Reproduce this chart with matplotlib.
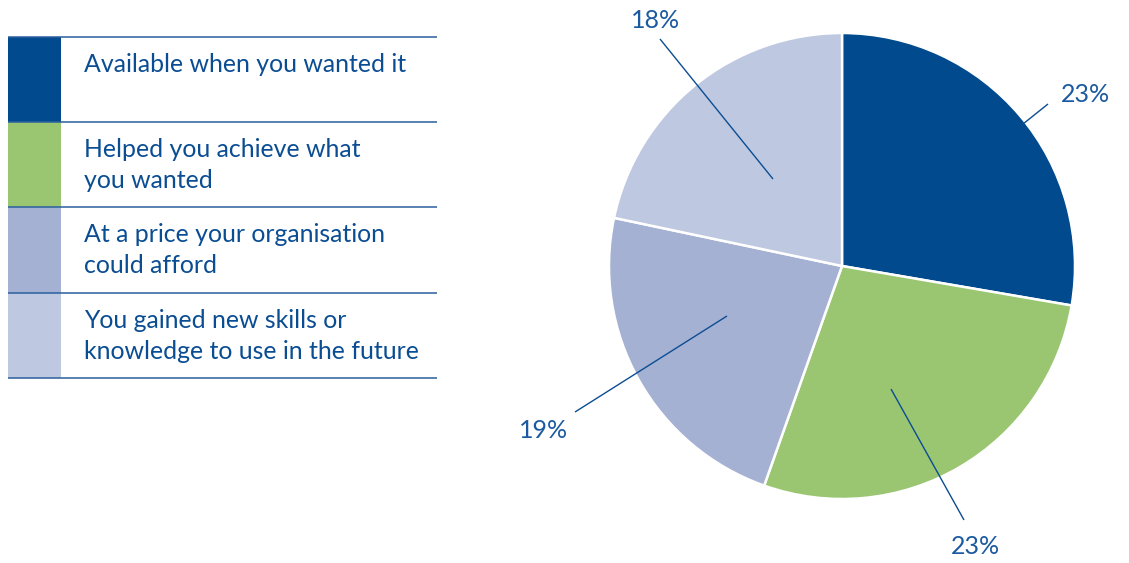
import matplotlib
matplotlib.use("Agg")
import matplotlib.pyplot as plt
from matplotlib.patches import Rectangle

# Data
categories = [
    "Available when you wanted it",
    "Helped you achieve what\nyou wanted",
    "At a price your organisation\ncould afford",
    "You gained new skills or\nknowledge to use in the future",
]
values = [23, 23, 19, 18]
value_labels = ["23%", "23%", "19%", "18%"]

colors = ["#004a8d", "#9ac672", "#a5b1d3", "#bec8e0"]
text_color = "#0b4d93"
label_color = "#1b5aa0"

W, H = 1129, 563
fig = plt.figure(figsize=(W / 100, H / 100), dpi=100)
ax = fig.add_axes([0, 0, 1, 1])


def Y(y):
    """Convert a top-down pixel row into the y-up data frame."""
    return H - y


# Pie
cx, cy, r = 842, Y(266), 233
ax.pie(values, colors=colors, startangle=90, counterclock=False,
       center=(cx, cy), radius=r, frame=True,
       wedgeprops=dict(edgecolor="white", linewidth=1.8))
ax.set_xlim(0, W)
ax.set_ylim(0, H)
ax.set_aspect("equal")
ax.axis("off")

# Leader lines and value labels
leaders = [
    ((1023, 124), (1048, 104), (1085, 94)),
    ((891, 389), (964, 520), (975, 547)),
    ((727, 316), (575, 412), (544, 430)),
    ((773, 179), (660, 39), (656, 20)),
]
for (p0, p1, t), lab in zip(leaders, value_labels):
    ax.plot([p0[0], p1[0]], [Y(p0[1]), Y(p1[1])], color="#0b4d93", lw=1.0,
            solid_capstyle="butt", zorder=5)
    ax.text(t[0], Y(t[1]), lab, ha="center", va="center", fontsize=18,
            family="Lato", color=label_color, zorder=6)

# Legend table
row_edges = [37, 122, 207, 293, 378]
sw_x0, sw_x1, line_x1 = 8, 61, 437
for i, (cat, col) in enumerate(zip(categories, colors)):
    y0, y1 = row_edges[i], row_edges[i + 1]
    ax.add_patch(Rectangle((sw_x0, Y(y1)), sw_x1 - sw_x0, y1 - y0,
                           facecolor=col, edgecolor="none"))
    for k, line in enumerate(cat.split("\n")):
        ax.text(84, Y(y0 + 35 + 31 * k), line, ha="left", va="baseline",
                fontsize=17.9, family="Lato", color=text_color)
for y in row_edges:
    ax.plot([sw_x0, line_x1], [Y(y), Y(y)], color="#2a5f9e", lw=1.1,
            solid_capstyle="butt")

fig.savefig("out.png", dpi=100)
